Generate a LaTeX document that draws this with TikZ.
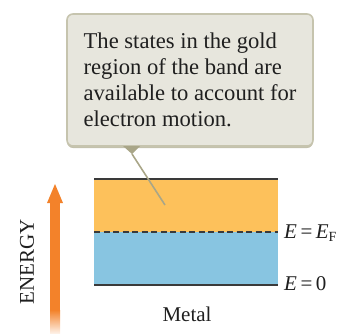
\documentclass[tikz,border=0pt]{standalone}
\usepackage{fontspec}
\setmainfont{Liberation Serif}
\definecolor{calloutfill}{HTML}{E7E6DD}
\definecolor{calloutedge}{HTML}{C6C4AE}
\definecolor{calloutdark}{HTML}{A9A688}
\definecolor{goldband}{HTML}{FDC15B}
\definecolor{blueband}{HTML}{88C5E1}
\definecolor{bandline}{HTML}{3A3A3A}
\definecolor{energyorange}{HTML}{F3822A}
\tikzset{
  calloutbox/.style={draw=calloutedge, line width=1.6pt, fill=calloutfill, rounded corners=6pt,
    minimum width=246pt, minimum height=132pt, inner sep=4pt, align=left,
    font=\rmfamily\fontsize{22.6}{26.2}\selectfont, text=black!88},
  bandedge/.style={draw=bandline, line width=1.2pt},
  label/.style={font=\rmfamily\fontsize{21}{24}\selectfont, inner sep=0pt, text=black!88}
}
\begin{document}
\begin{tikzpicture}[x=1pt,y=-1pt]
\useasboundingbox (0,0) rectangle (347,333);
% bands
\fill[goldband] (94,179) rectangle (278,232);
\fill[blueband] (94,232) rectangle (278,285);
\coordinate (topL) at (94,179); \coordinate (topR) at (278,179);
\coordinate (midL) at (94,232); \coordinate (midR) at (278,232);
\coordinate (botL) at (94,285); \coordinate (botR) at (278,285);
\draw[bandedge] (topL) -- (topR);
\draw[bandedge, dash pattern=on 6pt off 3.5pt] (midL) -- (midR);
\draw[bandedge] (botL) -- (botR);
% callout
\fill[calloutdark!70, rounded corners=6pt] (67,16) rectangle (313,148);
\node[calloutbox] (note) at (190,80) {The states in the gold\\ region of the band are\\ available to account for\\ electron motion.};
\coordinate (tipL) at (123,146); \coordinate (tipR) at (140,146);
\coordinate (tip) at (132,154);
\fill[calloutdark] (tipL) -- (tip) -- (tipR) -- cycle;
\coordinate (pointend) at (165,205);
\draw[calloutdark, line width=1.6pt] (tip) -- (pointend);
% labels
\node[label, anchor=west] (ef) at (284,233) {\textit{E}\,=\,\textit{E}\raisebox{-0.35ex}{\fontsize{14}{14}\selectfont F}};
\node[label, anchor=west] (e0) at (284,284) {\textit{E}\,=\,0};
\node[label] (metal) at (187,314) {Metal};
% energy arrow
\fill[energyorange] (50,203) rectangle (60,310);
\shade[top color=energyorange, bottom color=energyorange!12] (50,310) rectangle (60,333);
\coordinate (headL) at (47,203); \coordinate (headR) at (63,203); \coordinate (headT) at (55,184);
\fill[energyorange] (headL) -- (headT) -- (headR) -- cycle;
\node[label, rotate=90] (energy) at (27,262) {ENERGY};
\end{tikzpicture}
\end{document}
